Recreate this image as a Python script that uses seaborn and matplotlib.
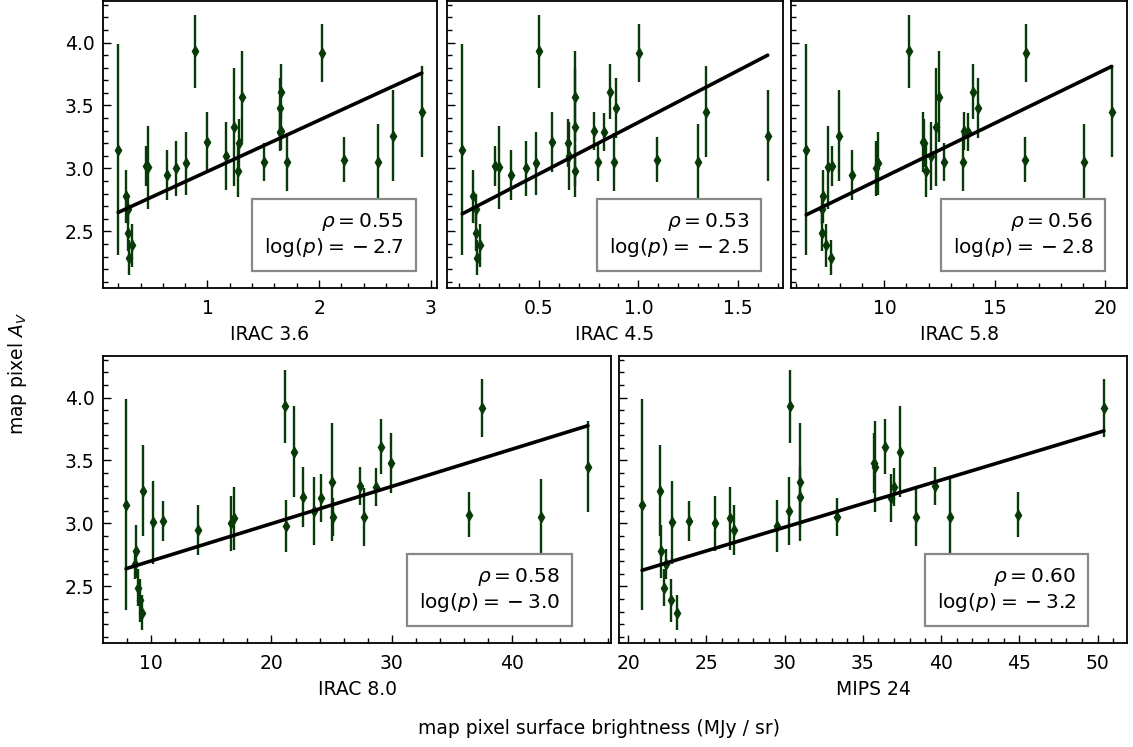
import numpy as np
import pandas as pd
import matplotlib
matplotlib.use("Agg")
import matplotlib.pyplot as plt
from matplotlib.ticker import AutoMinorLocator, MultipleLocator
import seaborn as sns

# A_V per map pixel (same pixels in every band) and its uncertainty
av = [3.15, 2.78, 2.68, 2.49, 2.39, 2.29, 3.26, 3.01, 3.02, 2.95, 3.00, 3.04, 3.93, 2.98, 3.57,
      3.21, 3.10, 3.20, 3.33, 3.05, 3.30, 3.05, 3.29, 3.61, 3.48, 3.07, 3.92, 3.05, 3.45]
av_err = [0.84, 0.21, 0.12, 0.15, 0.17, 0.14, 0.36, 0.33, 0.16, 0.20, 0.22, 0.25, 0.29, 0.21, 0.36,
          0.24, 0.27, 0.19, 0.47, 0.15, 0.15, 0.23, 0.15, 0.22, 0.24, 0.18, 0.23, 0.30, 0.36]

# surface brightness (MJy/sr) of the same pixels
irac36 = [0.20, 0.27, 0.29, 0.29, 0.32, 0.30, 2.66, 0.47, 0.45, 0.64, 0.72, 0.81, 0.89, 1.27, 1.31,
          1.00, 1.17, 1.28, 1.24, 1.51, 1.66, 1.71, 1.65, 1.66, 1.65, 2.22, 2.03, 2.53, 2.92]
irac45 = [0.115, 0.169, 0.182, 0.182, 0.206, 0.19, 1.65, 0.298, 0.278, 0.358, 0.435, 0.487, 0.502, 0.68, 0.684,
          0.567, 0.65, 0.644, 0.684, 0.798, 0.778, 0.875, 0.828, 0.858, 0.886, 1.095, 1.005, 1.30, 1.34]
irac58 = [6.46, 7.22, 7.17, 7.17, 7.35, 7.6, 7.96, 7.46, 7.62, 8.53, 9.62, 9.73, 11.1, 11.88, 12.48,
          11.75, 12.12, 11.8, 12.33, 12.72, 13.6, 13.57, 13.8, 14.0, 14.24, 16.35, 16.4, 19.06, 20.3]
irac80 = [7.92, 8.75, 8.7, 8.95, 9.1, 9.25, 9.33, 10.14, 11.0, 13.9, 16.65, 16.85, 21.1, 21.2, 21.86,
          22.66, 23.5, 24.1, 25.04, 25.1, 27.4, 27.67, 28.7, 29.1, 29.9, 36.4, 37.5, 42.4, 46.3]
mips24 = [20.9, 22.1, 22.45, 22.3, 22.74, 23.15, 22.04, 22.8, 23.9, 26.8, 25.57, 26.5, 30.34, 29.5, 37.4,
          30.98, 30.3, 36.8, 30.98, 33.34, 39.6, 38.4, 37.0, 36.4, 35.7, 44.9, 50.4, 40.6, 35.75]

bands = ["IRAC 3.6", "IRAC 4.5", "IRAC 5.8", "IRAC 8.0", "MIPS 24"]
band_x = [irac36, irac45, irac58, irac80, mips24]
tick_step = [1, 0.5, 5, 10, 5]

# linear fits and Spearman stats per band
slopes = [0.407, 0.821, 0.0852, 0.0296, 0.03754]
intercepts = [2.569, 2.545, 2.081, 2.406, 1.843]
rho = [0.55, 0.53, 0.56, 0.58, 0.60]
logp = [-2.7, -2.5, -2.8, -3.0, -3.2]

sns.set_style("ticks", {"xtick.direction": "in", "ytick.direction": "in",
                        "axes.edgecolor": "black", "text.color": "black",
                        "axes.labelcolor": "black", "xtick.color": "black",
                        "ytick.color": "black"})
plt.rcParams["font.family"] = ["DejaVu Sans"]
plt.rcParams["font.size"] = 13.5
plt.rcParams["mathtext.fontset"] = "dejavusans"

fs = 13.5
green = "#083a08"
W, H = 1133, 747
# axes boxes in pixels: left, top, width, height
px_boxes = [(103, 1, 334, 287), (447, 1, 336, 287), (791, 1, 336, 287),
            (103, 356, 508, 287), (619, 356, 508, 287)]

fig = plt.figure(figsize=(W / 100, H / 100), dpi=100)
first = None
for i, (name, xs) in enumerate(zip(bands, band_x)):
    l, t, w, h = px_boxes[i]
    ax = fig.add_axes([l / W, 1 - (t + h) / H, w / W, h / H], sharey=first)
    if first is None:
        first = ax
    df = pd.DataFrame({"flux": xs, "av": av, "err": av_err})

    ax.errorbar(df["flux"], df["av"], yerr=df["err"], fmt="none", ecolor=green,
                elinewidth=1.7, capsize=0, zorder=2)
    sns.scatterplot(data=df, x="flux", y="av", marker="d", color=green, s=44,
                    linewidth=0, ax=ax, zorder=3)
    xx = np.array([df["flux"].min(), df["flux"].max()])
    sns.lineplot(x=xx, y=slopes[i] * xx + intercepts[i], color="black", linewidth=2.6,
                 ax=ax, zorder=4)

    txt = f"$\\rho = {rho[i]:.2f}$\n$\\log(p) = {{}} - {abs(logp[i]):.1f}$"
    ax.text(0.9, 0.1, txt, transform=ax.transAxes, ha="right", va="bottom",
            multialignment="right", fontsize=14.5, zorder=5,
            bbox=dict(boxstyle="square,pad=0.6", fc="white", ec="#888888", lw=1.6))

    ax.set_ylim(2.05, 4.33)
    ax.set_xlabel(name, fontsize=fs, labelpad=5)
    ax.set_ylabel("")
    ax.xaxis.set_major_locator(MultipleLocator(tick_step[i]))
    ax.xaxis.set_minor_locator(AutoMinorLocator(5))
    ax.yaxis.set_major_locator(MultipleLocator(0.5))
    ax.yaxis.set_minor_locator(AutoMinorLocator(5))
    ax.tick_params(which="major", length=6, width=1, labelsize=fs, pad=6)
    ax.tick_params(axis="x", which="major", pad=8)
    ax.tick_params(which="minor", length=3.5, width=1)
    for sp in ax.spines.values():
        sp.set_linewidth(1.3)
    if i not in (0, 3):
        ax.tick_params(labelleft=False)

fig.text(18 / W, 0.5, "map pixel $A_V$", rotation=90, ha="center", va="center", fontsize=fs)
fig.text(599 / W, 1 - 728 / H, "map pixel surface brightness (MJy / sr)",
         ha="center", va="center", fontsize=fs)

fig.savefig("out.png", dpi=100)
